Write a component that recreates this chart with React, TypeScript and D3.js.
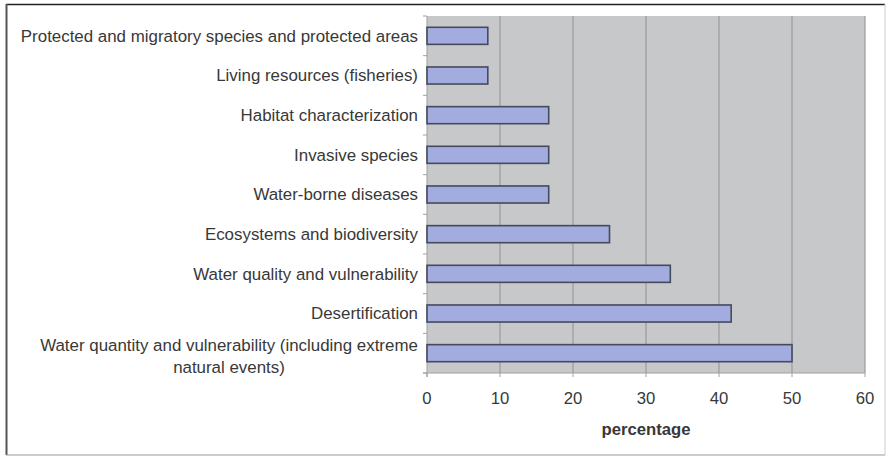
import React from "react";
import * as d3 from "d3";

const categories = [
  "Protected and migratory species and protected areas",
  "Living resources (fisheries)",
  "Habitat characterization",
  "Invasive species",
  "Water-borne diseases",
  "Ecosystems and biodiversity",
  "Water quality and vulnerability",
  "Desertification",
  "Water quantity and vulnerability (including extreme|natural events)",
];
const values = [8.33, 8.33, 16.67, 16.67, 16.67, 25, 33.33, 41.67, 50];
const xTicks = [0, 10, 20, 30, 40, 50, 60];
const xTitle = "percentage";

const W = 887;
const H = 457;
const plot = { left: 427, right: 865, top: 16, bottom: 373 };
const FONT = "'Liberation Sans', Arial, sans-serif";
const FS = 16.7;
const FS_CAT = 16.9;
const TEXT = "#383838";

export default function App() {
  const x = d3.scaleLinear().domain([0, 60]).range([plot.left, plot.right]);
  const y = d3
    .scaleBand<string>()
    .domain(categories)
    .range([plot.top, plot.bottom])
    .paddingInner(0.57)
    .paddingOuter(0.285);
  const bounds = d3.range(categories.length + 1).map((i) => plot.top + (i * (plot.bottom - plot.top)) / categories.length);

  return (
    <svg
      width={W}
      height={H}
      style={{ position: "absolute", left: 0, top: 0, background: "#fff" }}
      fontFamily={FONT}
    >
      {/* outer frame */}
      <line x1={6} x2={885} y1={4.5} y2={4.5} stroke="#222" strokeWidth={1.5} />
      <line x1={6.5} x2={6.5} y1={4} y2={455} stroke="#555" strokeWidth={2} />
      <line x1={6} x2={885} y1={455} y2={455} stroke="#999" strokeWidth={1} />
      <line x1={885} x2={885} y1={4} y2={455} stroke="#ccc" strokeWidth={1} />

      {/* plot background */}
      <rect x={plot.left} y={plot.top} width={plot.right - plot.left} height={plot.bottom - plot.top} fill="#c6c8ca" />
      {/* gridlines */}
      {xTicks.slice(1).map((t) => (
        <line key={"g" + t} x1={x(t)} x2={x(t)} y1={plot.top} y2={plot.bottom} stroke="#9a9a9a" strokeWidth={1.2} />
      ))}
      {/* axes */}
      <line x1={plot.left} x2={plot.left} y1={plot.top} y2={plot.bottom + 4} stroke="#a0a0a0" strokeWidth={1} />
      <line x1={plot.left - 4} x2={plot.right} y1={plot.bottom} y2={plot.bottom} stroke="#a0a0a0" strokeWidth={1} />
      {bounds.map((b, i) => (
        <line key={"yt" + i} x1={plot.left - 4} x2={plot.left} y1={b} y2={b} stroke="#a0a0a0" strokeWidth={1} />
      ))}
      {xTicks.map((t) => (
        <line key={"xt" + t} x1={x(t)} x2={x(t)} y1={plot.bottom} y2={plot.bottom + 4} stroke="#a0a0a0" strokeWidth={1} />
      ))}

      {/* bars */}
      {categories.map((c, i) => (
        <rect
          key={c}
          x={x(0)}
          y={y(c)!}
          width={x(values[i]) - x(0)}
          height={y.bandwidth()}
          fill="#a3acdf"
          stroke="#454a5c"
          strokeWidth={1.6}
        />
      ))}

      {/* category labels */}
      {categories.map((c) => {
        const cy = y(c)! + y.bandwidth() / 2;
        const lines = c.split("|");
        if (lines.length === 1) {
          return (
            <text key={"l" + c} x={418} y={cy} dy="0.35em" textAnchor="end" fontSize={FS_CAT} fill={TEXT}>
              {c}
            </text>
          );
        }
        return (
          <text key={"l" + c} x={229} y={cy} textAnchor="middle" fontSize={FS_CAT} fill={TEXT}>
            <tspan x={229} y={cy - 8} dy="0.35em">{lines[0]}</tspan>
            <tspan x={229} y={cy + 14} dy="0.35em">{lines[1]}</tspan>
          </text>
        );
      })}

      {/* x tick labels */}
      {xTicks.map((t) => (
        <text key={"xl" + t} x={x(t)} y={398} dy="0.35em" textAnchor="middle" fontSize={FS} fill={TEXT}>
          {t}
        </text>
      ))}
      <text x={(plot.left + plot.right) / 2} y={429} dy="0.35em" textAnchor="middle" fontSize={FS} fontWeight="bold" fill={TEXT}>
        {xTitle}
      </text>
    </svg>
  );
}
